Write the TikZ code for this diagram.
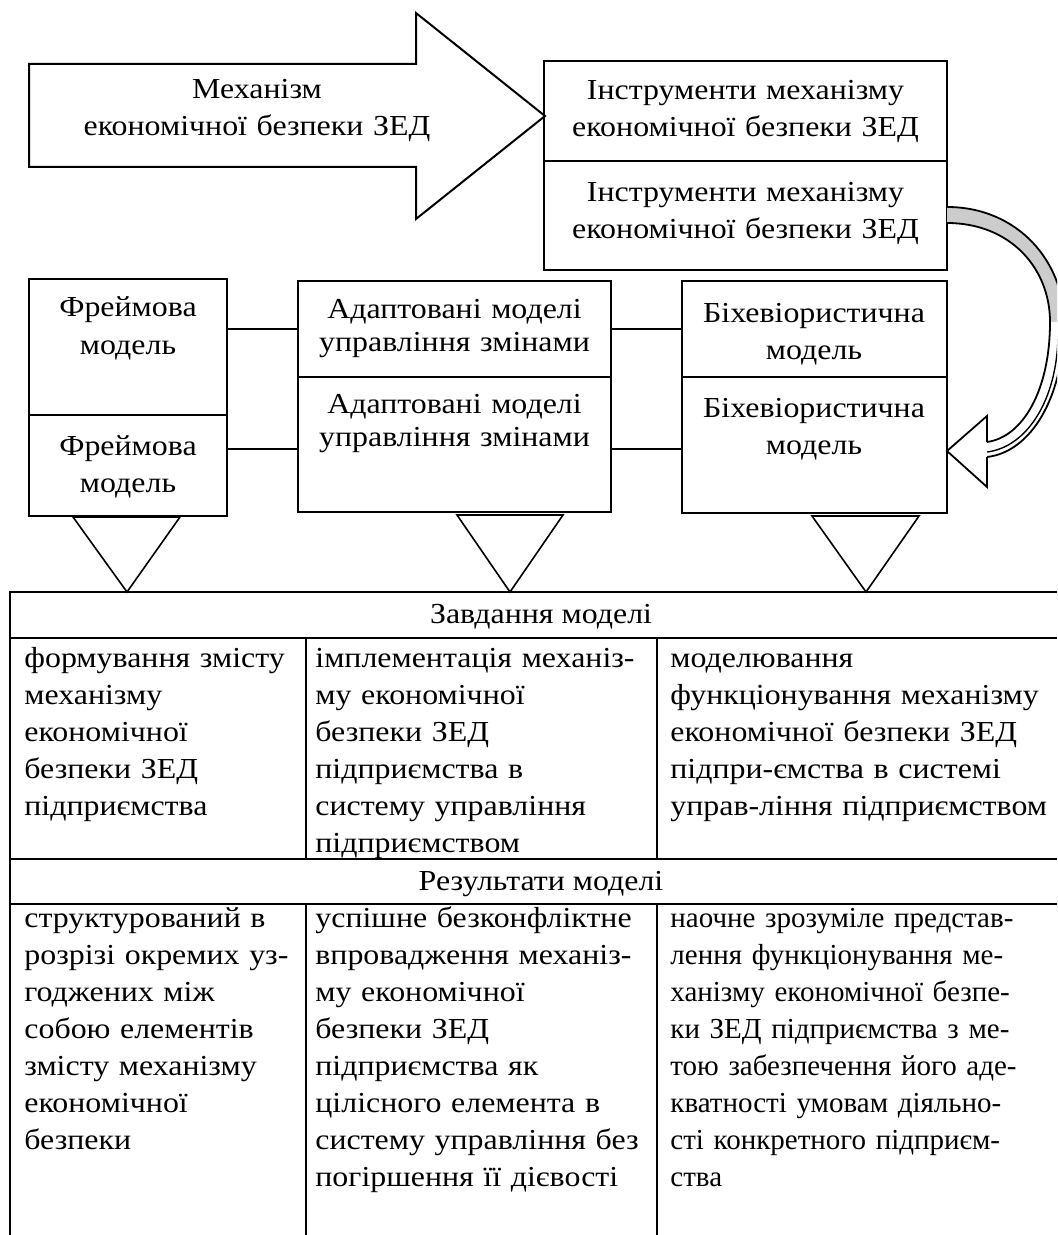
\documentclass[tikz,border=0pt]{standalone}
\usepackage{fontspec}
\setmainfont{Liberation Serif}[FakeStretch=1.1]
\newfontfamily\tightserif{Liberation Serif}
\begin{document}
\begin{tikzpicture}[x=0.5pt,y=-0.5pt,
  box/.style={draw, line width=1pt, inner sep=0pt, outer sep=0pt, anchor=north west},
  lbl/.style={inner sep=0pt, anchor=base, text width=240pt, align=center, font=\fontsize{14.5}{18.5}\selectfont},
  lbls/.style={lbl, font=\fontsize{14.5}{16.5}\selectfont},
  cell/.style={inner sep=0pt, anchor=base west, text width=260pt, align=left, font=\fontsize{14.5}{18.5}\selectfont},
  head/.style={inner sep=0pt, anchor=base, font=\fontsize{14.5}{18.5}\selectfont},
  conn/.style={line width=0.8pt},
  tri/.style={draw, line width=0.8pt, fill=white},
  grid/.style={line width=1.2pt},
  rib/.style={line width=0.9pt}]
\useasboundingbox (0,0) rectangle (1057,1235);
\fill[white] (0,0) rectangle (1057,1235);

% big arrow
\draw[line width=1pt, fill=white] (29,64) -- (416,64) -- (416,13) -- (545,116) -- (416,219) -- (416,167) -- (29,167) -- cycle;
\node[lbl] (mech) at (257,99) {Механізм\\економічної безпеки ЗЕД};

% instrument boxes
\node[box, minimum width=201.5pt, minimum height=50pt] (instr1) at (544,61) {};
\node[box, minimum width=201.5pt, minimum height=54.5pt] (instr2) at (544,161) {};
\node[lbl] (instr1t) at (745.5,100) {Інструменти механізму\\економічної безпеки ЗЕД};
\node[lbl] (instr2t) at (745.5,202) {Інструменти механізму\\економічної безпеки ЗЕД};

% model boxes
\node[box, minimum width=99pt, minimum height=68pt] (frame1) at (29,279) {};
\node[box, minimum width=99pt, minimum height=50.5pt] (frame2) at (29,415) {};
\node[lbl] (frame1t) at (128,317) {Фреймова\\модель};
\node[lbl] (frame2t) at (128,455) {Фреймова\\модель};

\node[box, minimum width=156.5pt, minimum height=48pt] (adapt1) at (298,281) {};
\node[box, minimum width=156.5pt, minimum height=67.5pt] (adapt2) at (298,377) {};
\node[lbls] (adapt1t) at (454.5,319) {Адаптовані моделі\\управління змінами};
\node[lbls] (adapt2t) at (454.5,413) {Адаптовані моделі\\управління змінами};

\node[box, minimum width=132.5pt, minimum height=48pt] (beh1) at (682,281) {};
\node[box, minimum width=132.5pt, minimum height=68pt] (beh2) at (682,377) {};
\node[lbl] (beh1t) at (814,322) {Біхевіористична\\модель};
\node[lbl] (beh2t) at (814,417) {Біхевіористична\\модель};

% connectors
\coordinate (c2) at ([yshift=-2.25pt]adapt2.west);
\coordinate (c3) at ([yshift=-2.25pt]adapt2.east);
\draw[conn] (adapt1.west) -- (adapt1.west -| frame1.east);
\draw[conn] (c2) -- (c2 -| frame2.east);
\draw[conn] (adapt1.east) -- (adapt1.east -| beh1.west);
\draw[conn] (c3) -- (c3 -| beh2.west);

% curved arrow
\begin{scope}
\clip (0,0) rectangle (1057,1235);
\fill[black!20] (947,207) .. controls (1018,207) and (1064,262) .. (1064,322)
  -- (1050,322) .. controls (1050,268) and (1010,223) .. (947,223) -- cycle;
\fill[white] (1064,322) .. controls (1064,397) and (1031,452) .. (987,457)
  -- (987,442) .. controls (1023,437) and (1050,390) .. (1050,322) -- cycle;
\draw[rib] (947,207) .. controls (1018,207) and (1064,262) .. (1064,322)
  .. controls (1064,397) and (1031,452) .. (987,457);
\draw[rib] (947,223) .. controls (1010,223) and (1050,268) .. (1050,322)
  .. controls (1050,390) and (1023,437) .. (987,442);
\draw[line width=0.7pt] (1058,336) .. controls (1057,400) and (1027,447) .. (987,452);
\end{scope}
\draw[rib, fill=white] (987,442) -- (987,416) -- (947,451) -- (987,487) -- (987,457);

% triangles
\draw[tri] (73,517) -- (180,517) -- (127,592) -- cycle;
\draw[tri] (457,515) -- (563,515) -- (510,592) -- cycle;
\draw[tri] (812,516) -- (919,516) -- (866,592) -- cycle;

% table
\draw[grid] (10,1235) -- (10,592) -- (1057,592);
\draw[grid] (10,638) -- (1057,638);
\draw[grid] (10,859) -- (1057,859);
\draw[grid] (10,904) -- (1057,904);
\draw[grid] (306,638) -- (306,859);
\draw[grid] (657,638) -- (657,859);
\draw[grid] (306,904) -- (306,1235);
\draw[grid] (657,904) -- (657,1235);

\node[head] (h1) at (541,623) {Завдання моделі};
\node[head] (h2) at (541,890) {Результати моделі};

\node[cell] (t11) at (24,667) {формування змісту\\механізму\\економічної\\безпеки ЗЕД\\підприємства};
\node[cell] (t12) at (315,667) {імплементація механіз-\\му економічної\\безпеки ЗЕД\\підприємства в\\систему управління\\підприємством};
\node[cell] (t13) at (670,667) {моделювання\\функціонування механізму\\економічної безпеки ЗЕД\\підпри-ємства в системі\\управ-ління підприємством};

\node[cell] (t21) at (24,927) {структурований в\\розрізі окремих уз-\\годжених між\\собою елементів\\змісту механізму\\економічної\\безпеки};
\node[cell] (t22) at (315,927) {успішне безконфліктне\\впровадження механіз-\\му економічної\\безпеки ЗЕД\\підприємства як\\цілісного елемента в\\систему управління без\\погіршення її дієвості};
\node[cell, font=\tightserif\fontsize{14.5}{18.5}\selectfont] (t23) at (670,927) {наочне зрозуміле представ-\\лення функціонування ме-\\ханізму економічної безпе-\\ки ЗЕД підприємства з ме-\\тою забезпечення його аде-\\кватності умовам діяльно-\\сті конкретного підприєм-\\ства};
\end{tikzpicture}
\end{document}
